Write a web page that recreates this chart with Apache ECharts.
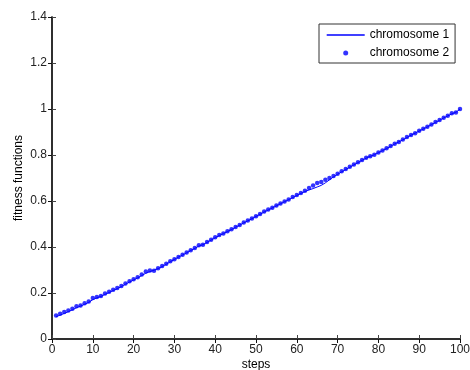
<!DOCTYPE html>
<html>
<head>
<meta charset="utf-8">
<script src="https://cdn.jsdelivr.net/npm/echarts@6/dist/echarts.min.js"></script>
<style>
  html, body { margin: 0; padding: 0; background: #fff; }
  #main { width: 470px; height: 370px; }
</style>
</head>
<body>
<div id="main"></div>
<script>
// values, one per step (1..100)
const chromosome1 = [
  0.097, 0.104, 0.111, 0.119, 0.127, 0.136, 0.143, 0.151, 0.159, 0.171,
  0.179, 0.185, 0.194, 0.202, 0.211, 0.219, 0.228, 0.238, 0.248, 0.257,
  0.266, 0.276, 0.286, 0.293, 0.299, 0.306, 0.315, 0.325, 0.336, 0.346,
  0.356, 0.365, 0.375, 0.385, 0.394, 0.404, 0.410, 0.420, 0.430, 0.440,
  0.450, 0.458, 0.467, 0.476, 0.486, 0.495, 0.505, 0.514, 0.523, 0.533,
  0.542, 0.552, 0.561, 0.570, 0.579, 0.588, 0.597, 0.606, 0.615, 0.624,
  0.633, 0.641, 0.648, 0.654, 0.661, 0.668, 0.679, 0.692, 0.705, 0.716,
  0.727, 0.737, 0.747, 0.757, 0.767, 0.777, 0.786, 0.794, 0.801, 0.810,
  0.819, 0.828, 0.838, 0.848, 0.857, 0.866, 0.876, 0.886, 0.895, 0.904,
  0.913, 0.922, 0.932, 0.942, 0.951, 0.961, 0.970, 0.979, 0.986, 0.999
];
const chromosome2 = [
  0.102, 0.110, 0.117, 0.124, 0.131, 0.142, 0.146, 0.155, 0.163, 0.178,
  0.183, 0.187, 0.198, 0.205, 0.214, 0.222, 0.230, 0.241, 0.251, 0.260,
  0.268, 0.280, 0.294, 0.298, 0.297, 0.308, 0.317, 0.327, 0.338, 0.347,
  0.357, 0.366, 0.376, 0.386, 0.396, 0.408, 0.410, 0.422, 0.432, 0.442,
  0.452, 0.459, 0.468, 0.477, 0.487, 0.496, 0.506, 0.515, 0.524, 0.534,
  0.543, 0.554, 0.563, 0.571, 0.580, 0.589, 0.598, 0.607, 0.617, 0.626,
  0.635, 0.645, 0.656, 0.667, 0.678, 0.683, 0.692, 0.700, 0.709, 0.719,
  0.729, 0.739, 0.749, 0.759, 0.768, 0.778, 0.788, 0.795, 0.801, 0.811,
  0.820, 0.829, 0.839, 0.849, 0.857, 0.867, 0.878, 0.887, 0.895, 0.905,
  0.914, 0.923, 0.933, 0.943, 0.952, 0.962, 0.971, 0.981, 0.985, 1.000
];
const steps = chromosome1.map((_, i) => i + 1);

const font = 'Liberation Sans, Arial, sans-serif';
const pair = (arr) => arr.map((v, i) => [steps[i], v]);

const chart = echarts.init(document.getElementById('main'));

chart.setOption({
  animation: false,
  textStyle: { fontFamily: font },
  grid: { left: 52, right: 10, top: 17, bottom: 31, containLabel: false, outerBoundsMode: 'none' },
  legend: {
    left: 319,
    top: 24,
    orient: 'vertical',
    padding: [5, 6, 4, 7],
    itemGap: 6,
    itemWidth: 38,
    itemHeight: 5,
    borderColor: '#333',
    borderWidth: 1,
    backgroundColor: '#fff',
    textStyle: { fontSize: 12, color: '#000', fontFamily: font },
    data: [
      { name: 'chromosome 1', itemStyle: { opacity: 0 }, lineStyle: { width: 1.4, color: '#0000ff' } },
      { name: 'chromosome 2', icon: 'circle' }
    ]
  },
  xAxis: [
    {
      type: 'value',
      min: 0,
      max: 100,
      interval: 10,
      name: 'steps',
      nameLocation: 'middle',
      nameGap: 20,
      nameMoveOverlap: false,
      nameTextStyle: { fontSize: 12, color: '#000' },
      axisLine: { lineStyle: { color: '#666', width: 1.5 } },
      axisTick: { inside: true, length: 4, lineStyle: { color: '#444' } },
      axisLabel: { fontSize: 12, color: '#222', margin: 5 },
      splitLine: { show: false }
    },
    {
      type: 'value',
      position: 'top',
      min: 0,
      max: 100,
      interval: 10,
      axisLine: { lineStyle: { color: '#111', width: 1.5 } },
      axisTick: { inside: true, length: 4, lineStyle: { color: '#111' } },
      axisLabel: { show: false },
      splitLine: { show: false }
    }
  ],
  yAxis: [
    {
      type: 'value',
      min: 0,
      max: 1.4,
      interval: 0.2,
      name: 'fitness functions',
      nameLocation: 'middle',
      nameGap: 27,
      nameMoveOverlap: false,
      nameTextStyle: { fontSize: 12, color: '#000' },
      axisLine: { show: true, lineStyle: { color: '#666', width: 1.5 } },
      axisTick: { show: true, inside: true, length: 4, lineStyle: { color: '#444' } },
      axisLabel: { fontSize: 12, color: '#222', margin: 5 },
      splitLine: { show: false }
    },
    {
      type: 'value',
      position: 'right',
      min: 0,
      max: 1.4,
      interval: 0.2,
      axisLine: { show: true, lineStyle: { color: '#111', width: 1.5 } },
      axisTick: { show: true, inside: true, length: 4, lineStyle: { color: '#111' } },
      axisLabel: { show: false },
      splitLine: { show: false }
    }
  ],
  series: [
    {
      name: 'chromosome 1',
      type: 'line',
      xAxisIndex: 0,
      yAxisIndex: 0,
      symbol: 'none',
      color: '#0000ff',
      lineStyle: { color: '#0000ff', width: 1 },
      data: pair(chromosome1)
    },
    {
      name: 'chromosome 2',
      type: 'scatter',
      xAxisIndex: 0,
      yAxisIndex: 0,
      symbol: 'circle',
      symbolSize: 4.5,
      itemStyle: { color: '#0000ff' },
      data: pair(chromosome2)
    }
  ]
});
</script>
</body>
</html>
